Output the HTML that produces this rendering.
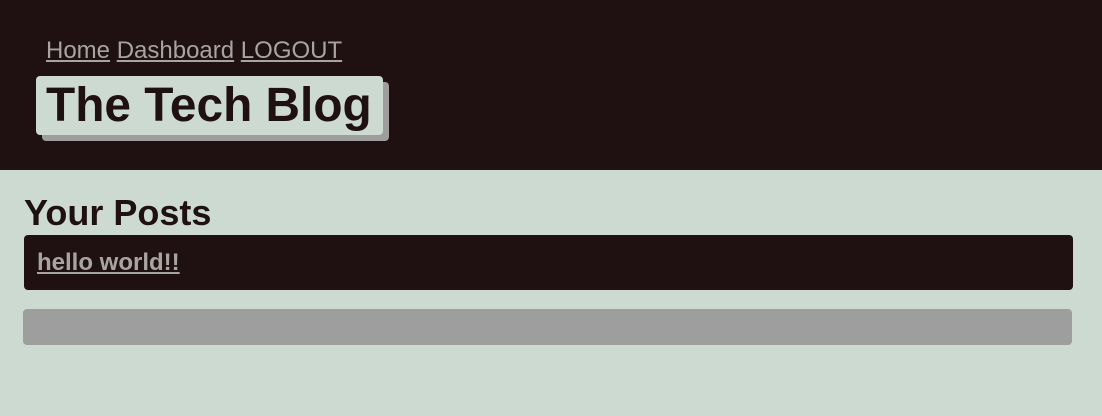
<!DOCTYPE html>
<html><head><meta charset="utf-8"><style>
*{margin:0;padding:0;box-sizing:border-box}
body{width:1102px;height:416px;overflow:hidden;background:#ccdad1;font-family:"Liberation Sans",Arial,sans-serif;position:relative}
header{position:absolute;left:0;top:0;width:1102px;height:170px;background:#1f1011}
a{color:#a8a4a4}
.nav{position:absolute;left:46px;top:37px;font-size:24px;line-height:28px;white-space:nowrap}
.title{position:absolute;left:36px;top:76px;width:347px;height:59px;background:#ccdad1;border-radius:4px;box-shadow:6px 6px 0 #9e9e9e}
.title h1{position:absolute;left:10px;top:2px;font-size:47.8px;line-height:56px;color:#1f1011;font-weight:bold;white-space:nowrap}
h2{position:absolute;left:24px;top:192px;font-size:36px;line-height:42px;color:#1f1011}
.post{position:absolute;left:24px;top:235px;width:1049px;height:55px;background:#1f1011;border-radius:4px}
.post a{position:absolute;left:13px;top:14px;font-size:24px;line-height:28px;font-weight:bold}
.empty{position:absolute;left:23px;top:309px;width:1049px;height:36px;background:#9e9e9e;border-radius:4px}
</style></head><body>
<header>
<div class="nav"><a href="#">Home</a> <a href="#">Dashboard</a> <a href="#">LOGOUT</a></div>
<div class="title"><h1>The Tech Blog</h1></div>
</header>
<h2>Your Posts</h2>
<div class="post"><a href="#">hello world!!</a></div>
<div class="empty"></div>
</body></html>
